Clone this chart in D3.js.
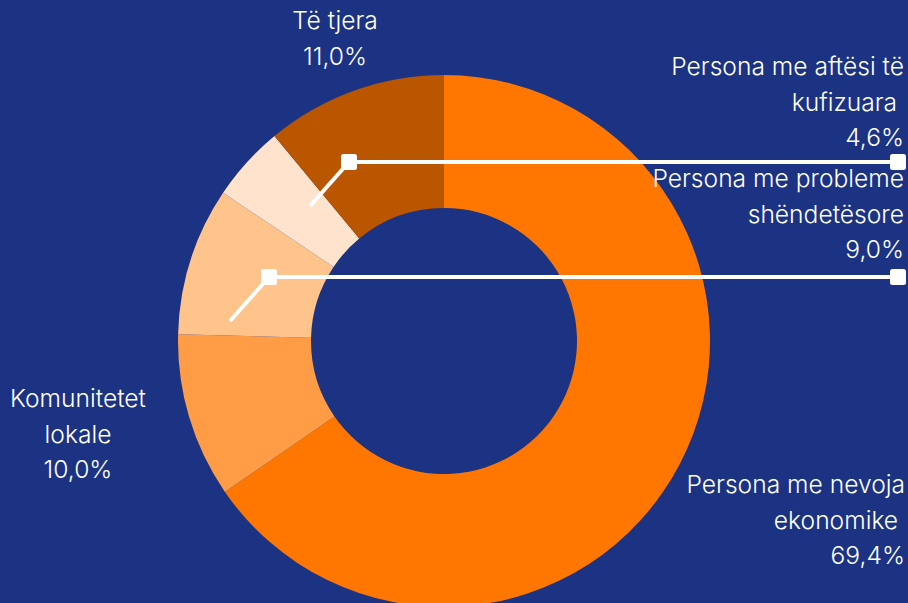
<!DOCTYPE html>
<html>
<head>
<meta charset="utf-8">
<script src="https://cdn.jsdelivr.net/npm/d3@7"></script>
<style>
  html, body { margin: 0; padding: 0; background: #1b3382; }
  svg { display: block; }
  text { font-family: Inter, Lato, sans-serif; fill: #ffffff; font-size: 24.6px; font-weight: 300; }
</style>
</head>
<body>
<div class="my-graph"></div>
<script>
// slice order clockwise from 12 o'clock
const categories = [
  'Persona me nevoja ekonomike',
  'Komunitetet lokale',
  'Persona me probleme shëndetësore',
  'Persona me aftësi të kufizuara',
  'Të tjera'
]
// slice sizes as drawn (the big slice is drawn at ~65.4 although labelled 69,4%)
const values = [65.4, 10.0, 9.0, 4.6, 11.0]
const valueLabels = ['69,4%', '10,0%', '9,0%', '4,6%', '11,0%']
const labelLines = [
  ['Persona me nevoja', 'ekonomike\u00a0'],
  ['Komunitetet', 'lokale'],
  ['Persona me probleme', 'shëndetësore'],
  ['Persona me aftësi të', 'kufizuara\u00a0'],
  ['Të tjera']
]
const colors = ['#ff7700', '#ff9c45', '#ffc38c', '#ffe3cd', '#ba5500']

const drawGraph = () => {
  const width = 908
  const height = 603
  const cx = 444
  const cy = 341
  const outerR = 266
  const innerR = 133

  const data = categories.map((c, i) => ({ name: c, value: values[i], label: valueLabels[i], lines: labelLines[i], color: colors[i] }))

  const pie = d3.pie().value(d => d.value).sort(null)
  const arc = d3.arc().innerRadius(innerR).outerRadius(outerR)

  const svg = d3.select('.my-graph')
    .append('svg')
    .attr('width', width)
    .attr('height', height)

  const g = svg.append('g').attr('transform', `translate(${cx}, ${cy})`)

  const arcs = pie(data)

  g.selectAll('.slice')
    .data(arcs)
    .enter().append('path')
    .attr('class', 'slice')
    .attr('fill', d => d.data.color)
    .attr('d', arc)

  // label layout: anchor, x, first baseline
  const labelPos = [
    { anchor: 'end', x: 905, y: 493 },
    { anchor: 'middle', x: 78, y: 407 },
    { anchor: 'end', x: 904, y: 187 },
    { anchor: 'end', x: 904, y: 75 },
    { anchor: 'middle', x: 335, y: 29 }
  ]
  const lineH = 35.5

  arcs.forEach((d, i) => {
    const p = labelPos[i]
    const t = svg.append('text')
      .attr('text-anchor', p.anchor)
      .attr('x', p.x)
      .attr('y', p.y)
    const lines = d.data.lines.concat([d.data.label])
    lines.forEach((l, j) => {
      t.append('tspan')
        .attr('x', p.x)
        .attr('y', p.y + j * lineH)
        .text(l)
    })
  })

  // connectors for the two small slices (elbow position + end square)
  const connectors = [
    { idx: 3, elbowX: 349, y: 162 },
    { idx: 2, elbowX: 269, y: 277 }
  ]
  connectors.forEach(c => {
    const sx = c.elbowX - 39
    const sy = c.y + 44
    svg.append('path')
      .attr('d', `M${sx},${sy}L${c.elbowX},${c.y}L898,${c.y}`)
      .attr('fill', 'none')
      .attr('stroke', '#ffffff')
      .attr('stroke-width', 4)
    ;[c.elbowX, 898].forEach(x => {
      svg.append('rect')
        .attr('x', x - 8)
        .attr('y', c.y - 8)
        .attr('width', 16)
        .attr('height', 16)
        .attr('rx', 2.5)
        .attr('fill', '#ffffff')
    })
  })
}

drawGraph()
</script>
</body>
</html>
